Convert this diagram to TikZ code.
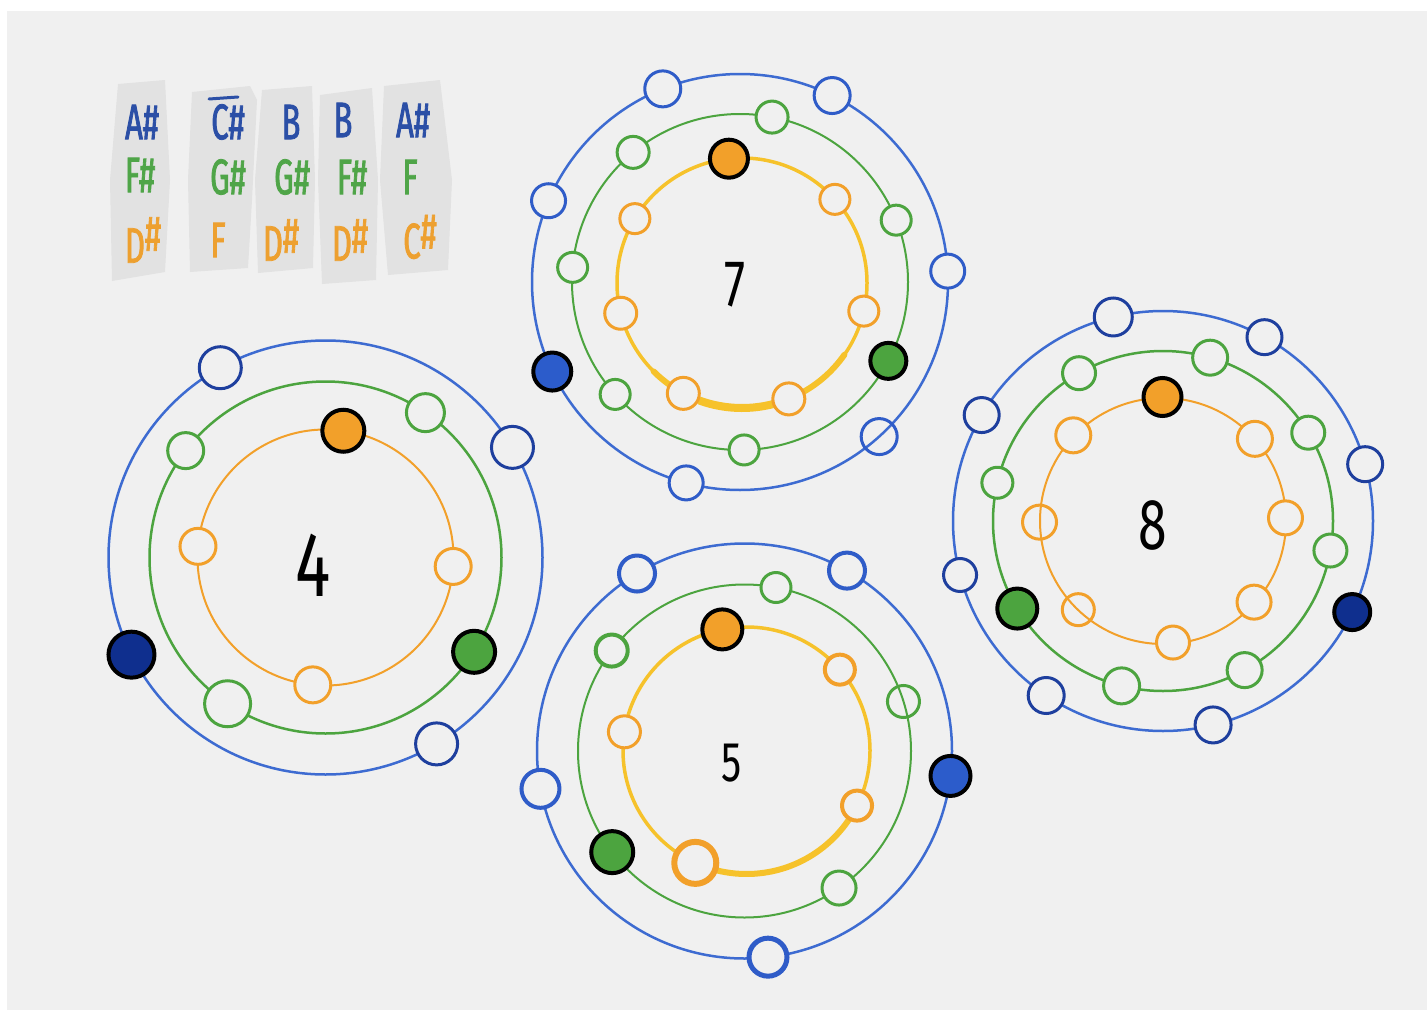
\documentclass[tikz,border=0pt]{standalone}
\usepackage{fontspec}
\newfontfamily\hand[FakeStretch=0.62, FakeBold=1.6]{Fira Sans}
\newfontfamily\numf[FakeStretch=0.72]{Fira Sans}
\definecolor{bg}{HTML}{F0F0F0}
\definecolor{patch}{HTML}{E2E2E2}
\definecolor{blueL}{HTML}{3D6BD1}
\definecolor{blueN}{HTML}{2F5CC8}
\definecolor{blueD}{HTML}{1E3F9E}
\definecolor{navy}{HTML}{0F2F8E}
\definecolor{blueF}{HTML}{2C5CCB}
\definecolor{greenC}{HTML}{4CA43F}
\definecolor{orangeC}{HTML}{F2A02A}
\definecolor{yellowC}{HTML}{F6C22B}
\definecolor{legB}{HTML}{2B4FA6}
\definecolor{legG}{HTML}{4FA548}
\definecolor{legO}{HTML}{EDA030}
\tikzset{
  ring/.style={line width=2.5},
  hol/.style={circle, inner sep=0pt, line width=3, fill=bg},
  ful/.style={circle, inner sep=0pt, line width=4, draw=black},
  leg/.style={font=\hand\fontsize{50}{50}\selectfont, inner sep=0pt, anchor=center},
  num/.style={font=\numf\fontsize{#1}{#1}\selectfont, inner sep=0pt, text=black},
}
\begin{document}
\begin{tikzpicture}[x=1pt,y=-1pt]
\useasboundingbox (0,0) rectangle (1427,1017);
\fill[white] (0,0) rectangle (1427,1017);
\fill[bg] (7,11) rectangle (1427,1010);

% legend patches
\fill[patch] (118,84) -- (165,80) -- (170,180) -- (165,272) -- (112,281) -- (110,180) -- cycle;
\fill[patch] (192,92) -- (250,86) -- (257,100) -- (252,200) -- (248,268) -- (190,272) -- (188,180) -- cycle;
\fill[patch] (262,90) -- (312,86) -- (315,180) -- (313,268) -- (258,273) -- (255,180) -- cycle;
\fill[patch] (320,95) -- (372,88) -- (378,180) -- (376,280) -- (322,284) -- (318,180) -- cycle;
\fill[patch] (384,86) -- (440,80) -- (452,180) -- (448,270) -- (388,275) -- (380,180) -- cycle;

% legend text
\node[leg, text=legB] (l11) at (142,122) {A\#};
\node[leg, text=legG] (l12) at (140,175) {F\#};
\node[leg, text=legO] (l13) at (143,240) {D\raisebox{12pt}{\#}};
\node[leg, text=legB] (l21) at (228,122) {C\#};
\draw[legB, line width=3, line cap=round] (209,99) -- (238,97);
\node[leg, text=legG] (l22) at (228,177) {G\#};
\node[leg, text=legO] (l23) at (218,240) {F};
\node[leg, text=legB] (l31) at (291,122) {B};
\node[leg, text=legG] (l32) at (292,177) {G\#};
\node[leg, text=legO] (l33) at (281,240) {D\raisebox{8pt}{\#}};
\node[leg, text=legB] (l41) at (343,120) {B};
\node[leg, text=legG] (l42) at (352,177) {F\#};
\node[leg, text=legO] (l43) at (350,240) {D\raisebox{8pt}{\#}};
\node[leg, text=legB] (l51) at (413,120) {A\#};
\node[leg, text=legG] (l52) at (410,177) {F};
\node[leg, text=legO] (l53) at (420,237) {C\raisebox{10pt}{\#}};

% ================= circle 7
\coordinate (c7) at (740,282);
\draw[ring, blueL] (c7) circle[radius=208];
\draw[line width=2, greenC] (c7) circle[radius=168];
\draw[line width=3.5, yellowC] (742,283) circle[radius=125];
\draw[line width=6, yellowC, line cap=round] (742,283) ++(35:125) arc[start angle=35, end angle=135, radius=125];
\draw[line width=8, yellowC] (742,283) ++(65:125) arc[start angle=65, end angle=110, radius=125];
\node[num=66] (n7) at (735,285) {7};
\path (c7) ++(248.2:208) node[hol, draw=blueN, minimum size=36] (c7b1) {};
\path (c7) ++(-63.7:208) node[hol, draw=blueN, minimum size=36] (c7b2) {};
\path (c7) ++(-3:208) node[hol, draw=blueN, minimum size=34] (c7b3) {};
\path (c7) ++(48:208) node[hol, draw=blueN, fill=none, minimum size=36] (c7b4) {};
\path (c7) ++(105:208) node[hol, draw=blueN, minimum size=34] (c7b5) {};
\path (c7) ++(203:208) node[hol, draw=blueN, minimum size=34] (c7b6) {};
\path (c7) ++(154.5:208) node[ful, fill=blueF, minimum size=38] (c7b7) {};
\path (c7) ++(-79:168) node[hol, draw=greenC, minimum size=32] (c7g1) {};
\path (c7) ++(230.5:168) node[hol, draw=greenC, minimum size=32] (c7g2) {};
\path (c7) ++(-21.6:168) node[hol, draw=greenC, minimum size=30] (c7g3) {};
\path (c7) ++(185:168) node[hol, draw=greenC, minimum size=30] (c7g4) {};
\path (c7) ++(138:168) node[hol, draw=greenC, minimum size=30] (c7g5) {};
\path (c7) ++(88.6:168) node[hol, draw=greenC, minimum size=30] (c7g6) {};
\path (c7) ++(28:168) node[ful, fill=greenC, minimum size=36] (c7g7) {};
\path (742,283) ++(-42:125) node[hol, draw=orangeC, minimum size=30] (c7o1) {};
\path (742,283) ++(13:125) node[hol, draw=orangeC, minimum size=30] (c7o2) {};
\path (742,283) ++(68:125) node[hol, draw=orangeC, minimum size=32] (c7o3) {};
\path (742,283) ++(118:125) node[hol, draw=orangeC, minimum size=32] (c7o4) {};
\path (742,283) ++(166:125) node[hol, draw=orangeC, minimum size=32] (c7o5) {};
\path (742,283) ++(211:125) node[hol, draw=orangeC, minimum size=30] (c7o6) {};
\path (742,283) ++(264:125) node[ful, fill=orangeC, minimum size=38] (c7o7) {};

% ================= circle 4
\coordinate (c4) at (325.5,557.5);
\draw[ring, blueL] (c4) circle[radius=217];
\draw[ring, greenC] (c4) circle[radius=176];
\draw[line width=2, orangeC] (c4) circle[radius=128];
\node[num=92] (n4) at (313,565) {4};
\path (c4) ++(241:217) node[hol, draw=blueD, minimum size=42] (c4b1) {};
\path (c4) ++(-30.5:217) node[hol, draw=blueD, minimum size=42] (c4b2) {};
\path (c4) ++(59.2:217) node[hol, draw=blueD, minimum size=42] (c4b3) {};
\path (c4) ++(153.4:217) node[ful, fill=navy, minimum size=46] (c4b4) {};
\path (c4) ++(-55.4:176) node[hol, draw=greenC, minimum size=38] (c4g1) {};
\path (c4) ++(217.4:176) node[hol, draw=greenC, minimum size=36] (c4g2) {};
\path (c4) ++(123.8:176) node[hol, draw=greenC, minimum size=46] (c4g3) {};
\path (c4) ++(32.4:176) node[ful, fill=greenC, minimum size=42] (c4g4) {};
\path (c4) ++(185:128) node[hol, draw=orangeC, minimum size=36] (c4o1) {};
\path (c4) ++(4:128) node[hol, draw=orangeC, minimum size=36] (c4o2) {};
\path (c4) ++(95.7:128) node[hol, draw=orangeC, minimum size=36] (c4o3) {};
\path (c4) ++(-82:128) node[ful, fill=orangeC, minimum size=42] (c4o4) {};

% ================= circle 8
\coordinate (c8) at (1163,521);
\draw[ring, blueL] (c8) circle[radius=210];
\draw[ring, greenC] (c8) circle[radius=170];
\draw[line width=2, orangeC] (c8) circle[radius=123];
\node[num=72] (n8) at (1153,525) {8};
\path (c8) ++(256.3:210) node[hol, draw=blueD, minimum size=38] (c8b1) {};
\path (c8) ++(-61.1:210) node[hol, draw=blueD, minimum size=35] (c8b2) {};
\path (c8) ++(210.3:210) node[hol, draw=blueD, minimum size=35] (c8b3) {};
\path (c8) ++(-15.7:210) node[hol, draw=blueD, minimum size=35] (c8b4) {};
\path (c8) ++(165.1:210) node[hol, draw=blueD, minimum size=33] (c8b5) {};
\path (c8) ++(123.8:210) node[hol, draw=blueD, minimum size=36] (c8b6) {};
\path (c8) ++(76.2:210) node[hol, draw=blueD, minimum size=36] (c8b7) {};
\path (c8) ++(25.7:210) node[ful, fill=navy, minimum size=36] (c8b8) {};
\path (c8) ++(-73.9:170) node[hol, draw=greenC, minimum size=35] (c8g1) {};
\path (c8) ++(240.4:170) node[hol, draw=greenC, minimum size=33] (c8g2) {};
\path (c8) ++(-31.3:170) node[hol, draw=greenC, minimum size=33] (c8g3) {};
\path (c8) ++(193:170) node[hol, draw=greenC, minimum size=31] (c8g4) {};
\path (c8) ++(10:170) node[hol, draw=greenC, minimum size=33] (c8g5) {};
\path (c8) ++(61.3:170) node[hol, draw=greenC, minimum size=35] (c8g6) {};
\path (c8) ++(104.1:170) node[hol, draw=greenC, minimum size=36] (c8g7) {};
\path (c8) ++(149:170) node[ful, fill=greenC, minimum size=40] (c8g8) {};
\path (1162.5,520) ++(223.5:123) node[hol, draw=orangeC, minimum size=35] (c8o1) {};
\path (1162.5,520) ++(-41.3:123) node[hol, draw=orangeC, minimum size=35] (c8o2) {};
\path (1162.5,520) ++(179:123) node[hol, draw=orangeC, fill=none, minimum size=34] (c8o3) {};
\path (1162.5,520) ++(-1:123) node[hol, draw=orangeC, minimum size=34] (c8o4) {};
\path (1162.5,520) ++(133.2:123) node[hol, draw=orangeC, fill=none, minimum size=32] (c8o5) {};
\path (1162.5,520) ++(41.9:123) node[hol, draw=orangeC, minimum size=34] (c8o6) {};
\path (1162.5,520) ++(85.1:123) node[hol, draw=orangeC, minimum size=33] (c8o7) {};
\path (1162.5,520) ++(270:123) node[ful, fill=orangeC, minimum size=38] (c8o8) {};

% ================= circle 5
\coordinate (c5) at (744.5,751);
\draw[ring, blueL] (c5) circle[radius=207.5];
\draw[line width=2, greenC] (c5) circle[radius=166.5];
\draw[line width=3.5, yellowC] (746.5,750.5) circle[radius=123.5];
\draw[line width=6, yellowC, line cap=round] (746.5,750.5) ++(20:123.5) arc[start angle=20, end angle=115, radius=123.5];
\node[num=56] (n5) at (732,763) {5};
\path (c5) ++(238.8:207.5) node[hol, draw=blueN, line width=4, minimum size=36] (c5b1) {};
\path (c5) ++(-60.4:207.5) node[hol, draw=blueN, line width=4, minimum size=36] (c5b2) {};
\path (c5) ++(169.5:207.5) node[hol, draw=blueN, line width=4, minimum size=38] (c5b3) {};
\path (c5) ++(83.5:207.5) node[hol, draw=blueN, line width=5, minimum size=38] (c5b4) {};
\path (c5) ++(6.9:207.5) node[ful, fill=blueF, minimum size=40] (c5b5) {};
\path (c5) ++(-79.1:166.5) node[hol, draw=greenC, minimum size=30] (c5g1) {};
\path (c5) ++(217.1:166.5) node[hol, draw=greenC, line width=4, minimum size=32] (c5g2) {};
\path (c5) ++(-17.3:166.5) node[hol, draw=greenC, fill=none, minimum size=32] (c5g3) {};
\path (c5) ++(55.4:166.5) node[hol, draw=greenC, minimum size=34] (c5g4) {};
\path (c5) ++(142.6:166.5) node[ful, fill=greenC, minimum size=42] (c5g5) {};
\path (746.5,750.5) ++(-40.9:123.5) node[hol, draw=orangeC, line width=4, minimum size=30] (c5o1) {};
\path (746.5,750.5) ++(188.7:123.5) node[hol, draw=orangeC, minimum size=32] (c5o2) {};
\path (746.5,750.5) ++(26.5:123.5) node[hol, draw=orangeC, line width=4, minimum size=30] (c5o3) {};
\path (746.5,750.5) ++(114.5:123.5) node[hol, draw=orangeC, line width=6, minimum size=42] (c5o4) {};
\path (746.5,750.5) ++(258.7:123.5) node[ful, fill=orangeC, minimum size=40] (c5o5) {};
\end{tikzpicture}
\end{document}
